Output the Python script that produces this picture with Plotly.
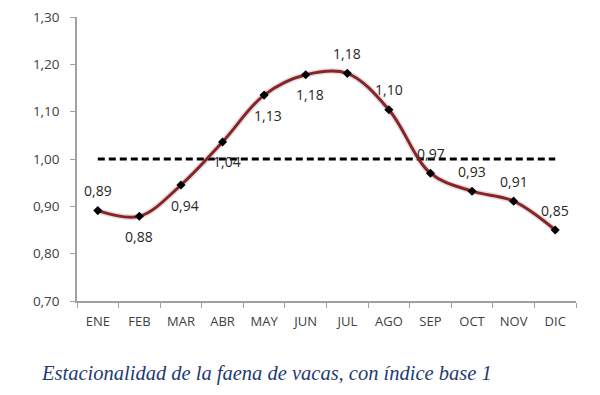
import plotly.graph_objects as go

months = ["ENE", "FEB", "MAR", "ABR", "MAY", "JUN", "JUL", "AGO", "SEP", "OCT", "NOV", "DIC"]
values = [0.891, 0.879, 0.945, 1.036, 1.135, 1.178, 1.181, 1.104, 0.970, 0.932, 0.911, 0.850]
labels = ["0,89", "0,88", "0,94", "1,04", "1,13", "1,18", "1,18", "1,10", "0,97", "0,93", "0,91", "0,85"]
label_side = [1, -1, -1, -1, -1, -1, 1, 1, 1, 1, 1, 1]
label_dx = [0, 0, 4, 4, 4, 4, 0, 0, 1, 0, 0, 0]
base = [1.0] * len(months)
y_ticks = [0.70, 0.80, 0.90, 1.00, 1.10, 1.20, 1.30]
title_text = "Estacionalidad de la faena de vacas, con índice base 1"

fig = go.Figure()
fig.add_trace(go.Scatter(
    x=months, y=base, mode="lines",
    line=dict(color="black", width=3, dash="7px,4px"),
    hoverinfo="skip", showlegend=False,
))
# soft shadow
fig.add_trace(go.Scatter(
    x=months, y=values, mode="lines",
    line=dict(color="rgba(0,0,0,0.12)", width=6, shape="spline", smoothing=1.0),
    hoverinfo="skip", showlegend=False,
))
fig.add_trace(go.Scatter(
    x=months, y=values, mode="lines+markers",
    line=dict(color="#8B2226", width=3, shape="spline", smoothing=1.0),
    marker=dict(symbol="diamond", size=7, color="black"),
    showlegend=False,
))

for m, v, t, s, dx in zip(months, values, labels, label_side, label_dx):
    fig.add_annotation(x=m, y=v, text=t, showarrow=False, yshift=20 * s, xshift=dx,
                       font=dict(family="Open Sans", size=14, color="#262626"))

fig.add_annotation(xref="paper", yref="paper", x=0.379, y=-0.257, text=f"<i>{title_text}</i>",
                   showarrow=False, xanchor="center", yanchor="middle",
                   font=dict(family="Liberation Serif", size=20.5, color="#1F3B73"))

fig.update_layout(
    width=592, height=387,
    margin=dict(l=69, r=24, t=9, b=94),
    paper_bgcolor="white", plot_bgcolor="white",
    separators=",.",
    font=dict(family="Open Sans", size=13, color="#404040"),
)
fig.update_xaxes(
    range=[-0.5, 11.5], showgrid=False, showline=True, linecolor="#A0A0A0", linewidth=1.5,
    ticks="outside", ticklen=5, tickcolor="#A0A0A0", tickson="boundaries",
    tickfont=dict(size=13, color="#404040"), ticklabelstandoff=8, automargin=False,
)
fig.update_yaxes(
    range=[0.70, 1.30], tickvals=y_ticks, tickformat=".2f", showgrid=False,
    showline=True, linecolor="#A0A0A0", linewidth=1.5, ticks="outside", ticklen=5,
    tickcolor="#A0A0A0", tickfont=dict(size=13.5, color="#404040"), ticklabelstandoff=8,
    ticklabeloverflow="allow", zeroline=False, automargin=False,
)

fig.write_html("out.html")
